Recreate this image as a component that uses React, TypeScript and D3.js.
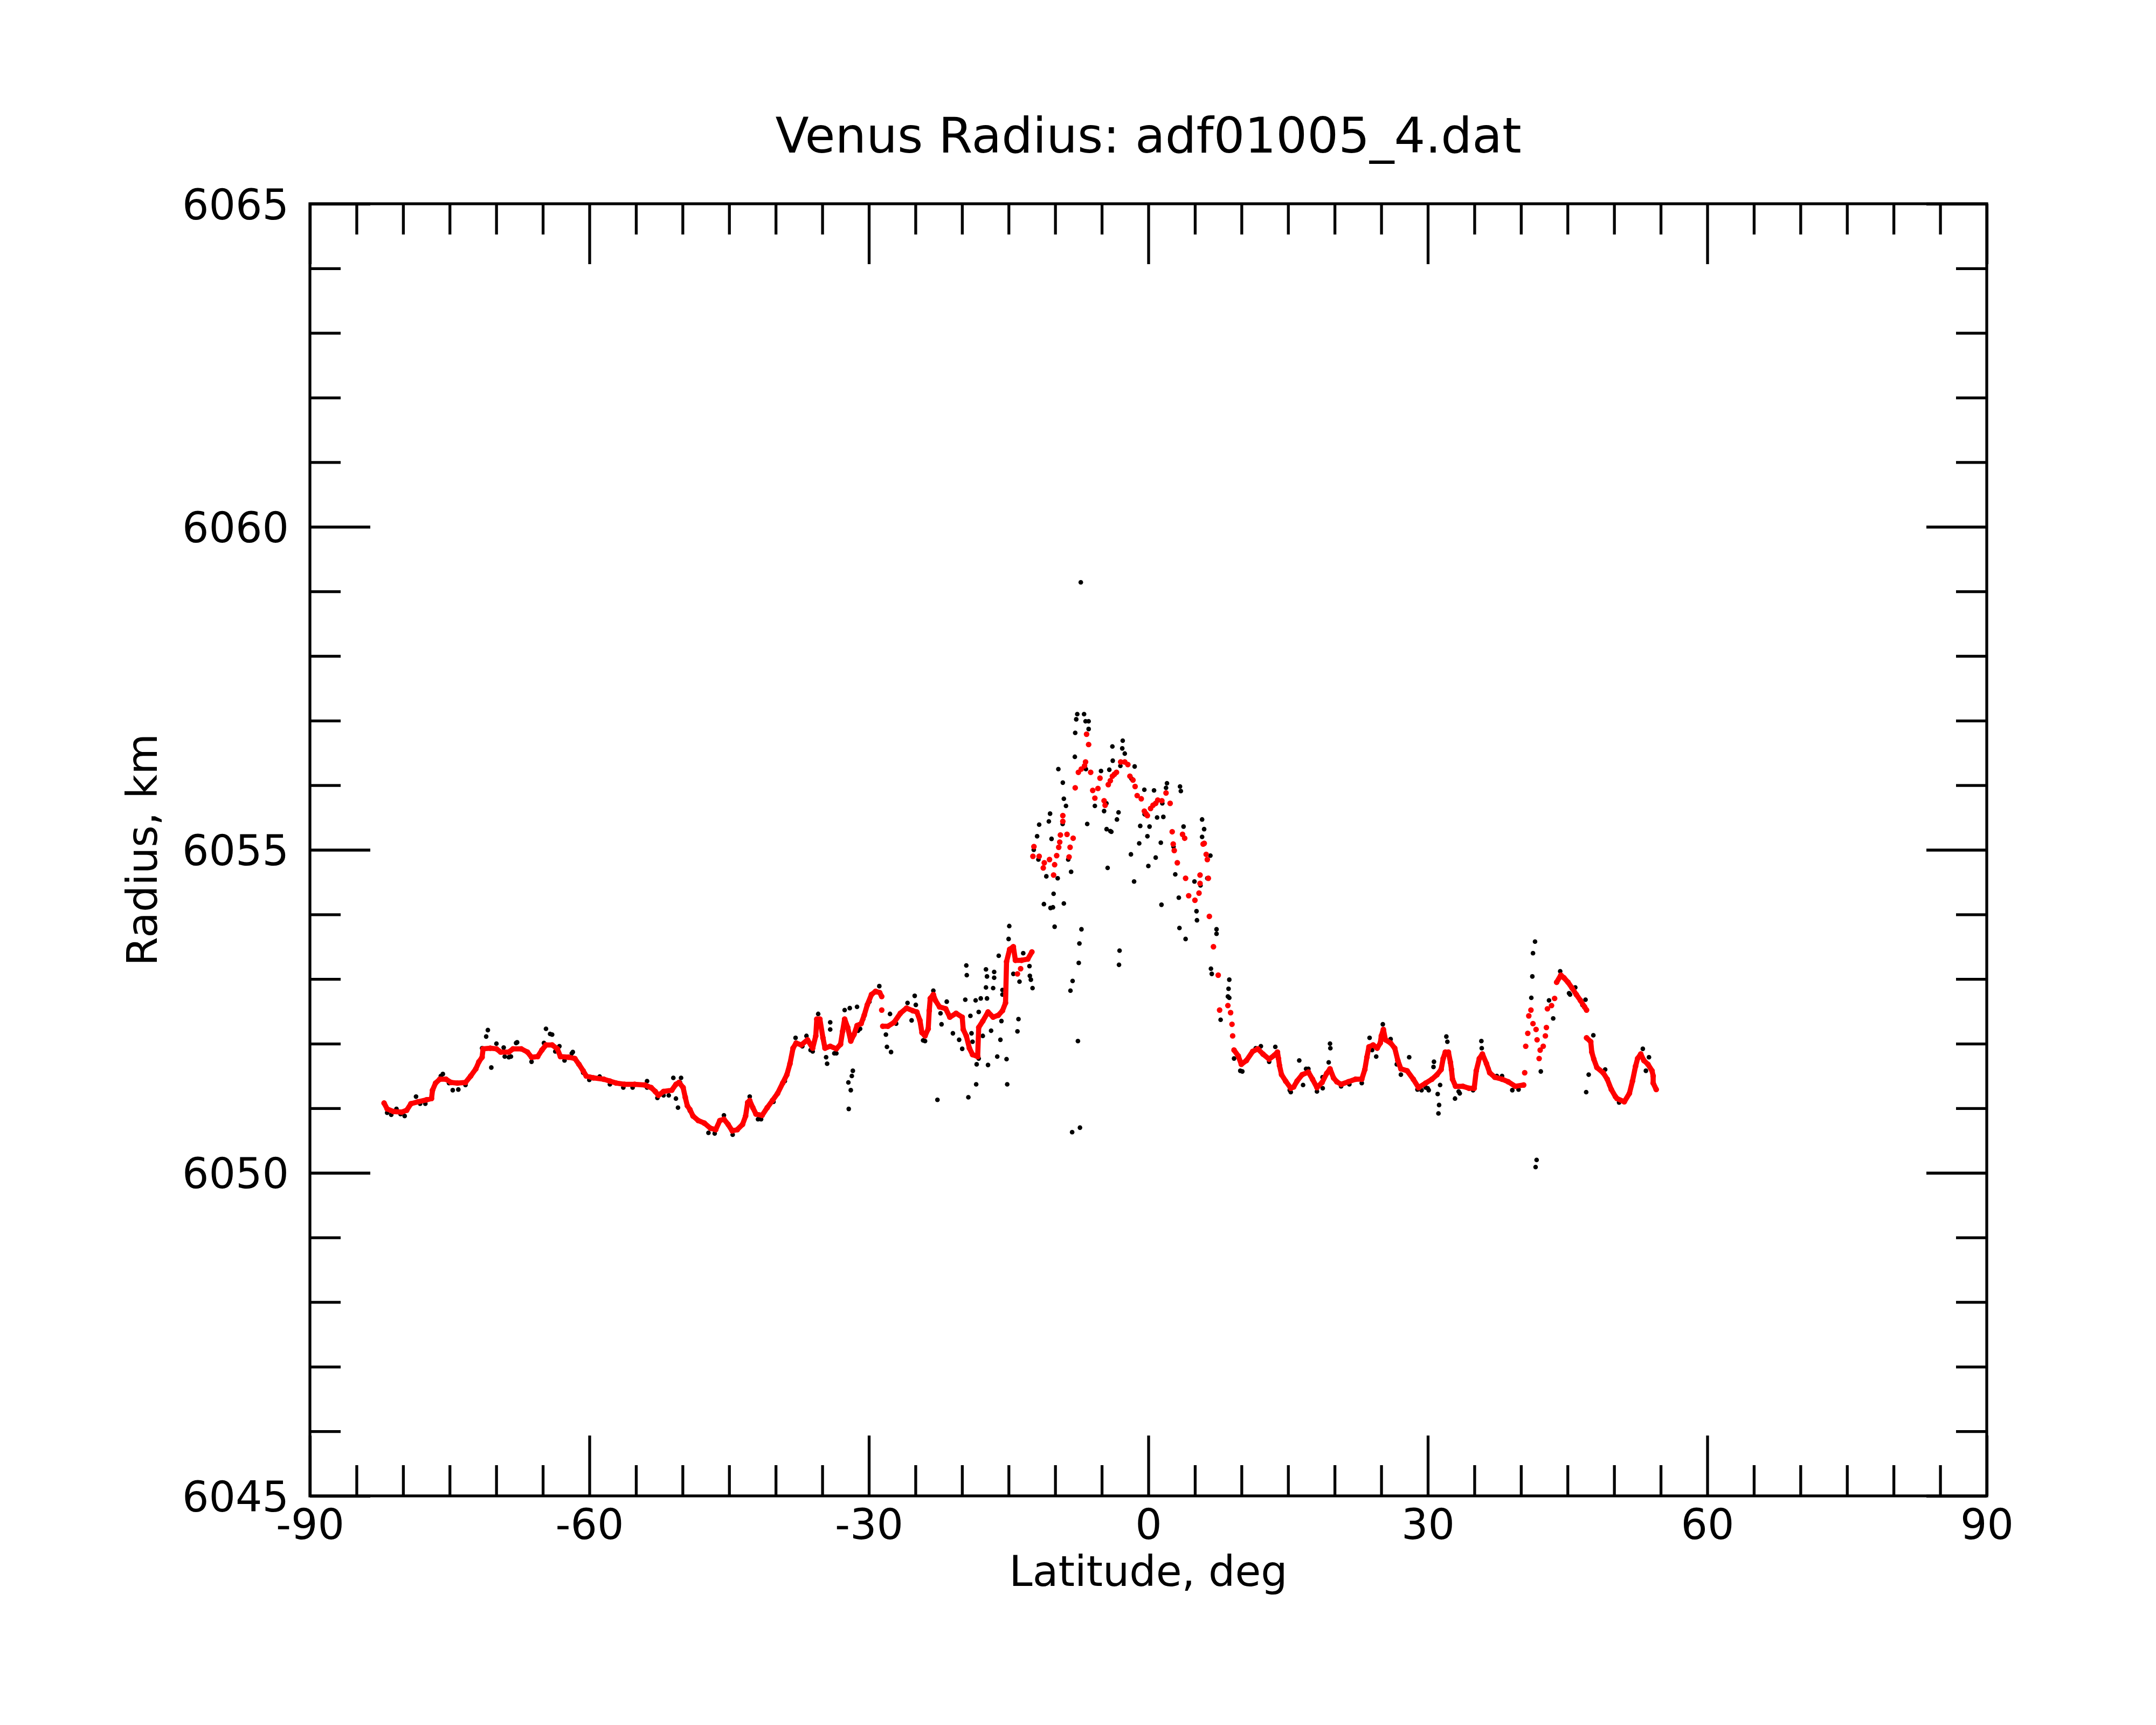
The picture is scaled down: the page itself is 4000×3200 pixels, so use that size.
import { useEffect, useRef } from 'react';
import * as d3 from 'd3';

type Pt = [number, number];

// latitude (deg), radius (km)
const redSouth: Pt[] = [
  [-82.04, 6051.08], [-81.71, 6050.99], [-81.05, 6050.95], [-80.16, 6050.94], [-79.61, 6050.97],
  [-79.16, 6051.07], [-78.39, 6051.1], [-77.5, 6051.13], [-76.95, 6051.15], [-76.84, 6051.28],
  [-76.51, 6051.39], [-76.06, 6051.45], [-75.4, 6051.45], [-74.85, 6051.4], [-74.18, 6051.39],
  [-73.3, 6051.4], [-72.74, 6051.5], [-72.19, 6051.61], [-71.86, 6051.72], [-71.52, 6051.79],
  [-71.41, 6051.92], [-70.64, 6051.93], [-69.98, 6051.92], [-69.53, 6051.87], [-68.65, 6051.87],
  [-68.2, 6051.92], [-67.32, 6051.92], [-66.65, 6051.87], [-66.21, 6051.79], [-65.55, 6051.8],
  [-65.1, 6051.9], [-64.66, 6051.98], [-64.0, 6051.98], [-63.44, 6051.92], [-63.11, 6051.8],
  [-62.23, 6051.79], [-61.56, 6051.77], [-61.12, 6051.68], [-60.67, 6051.58], [-60.34, 6051.5],
  [-59.57, 6051.47], [-58.46, 6051.45], [-57.8, 6051.42], [-57.13, 6051.39], [-56.24, 6051.37],
  [-55.14, 6051.37], [-54.03, 6051.36], [-53.37, 6051.32], [-52.93, 6051.26], [-52.59, 6051.2],
  [-52.04, 6051.26], [-51.15, 6051.28], [-50.71, 6051.37], [-50.38, 6051.4], [-49.94, 6051.32],
  [-49.71, 6051.17], [-49.49, 6051.04], [-49.21, 6050.98], [-48.88, 6050.88], [-48.32, 6050.81],
  [-47.66, 6050.77], [-47.0, 6050.69], [-46.44, 6050.67], [-46.0, 6050.81], [-45.56, 6050.83],
  [-45.11, 6050.75], [-44.67, 6050.65], [-44.12, 6050.67], [-43.56, 6050.75], [-43.23, 6050.88],
  [-43.01, 6051.09], [-42.79, 6051.12], [-42.46, 6051.01], [-42.12, 6050.91], [-41.46, 6050.89],
  [-40.91, 6051.01], [-40.35, 6051.12], [-39.8, 6051.23], [-39.25, 6051.39], [-38.8, 6051.52],
  [-38.47, 6051.69], [-38.14, 6051.93], [-37.81, 6052.01], [-37.25, 6051.98], [-36.59, 6052.06],
  [-36.03, 6051.93], [-35.7, 6052.12], [-35.59, 6052.38], [-35.26, 6052.38], [-34.93, 6052.09],
  [-34.71, 6051.93], [-34.15, 6051.96], [-33.49, 6051.92], [-33.04, 6051.99], [-32.82, 6052.19],
  [-32.6, 6052.38], [-32.27, 6052.25], [-31.94, 6052.04], [-31.6, 6052.14], [-31.27, 6052.28],
  [-30.83, 6052.31], [-30.5, 6052.44], [-30.17, 6052.6], [-29.72, 6052.76], [-29.28, 6052.81],
  [-28.84, 6052.79], [-28.62, 6052.73],
];

const redMid: Pt[] = [
  [-28.51, 6052.27], [-27.95, 6052.27], [-27.29, 6052.33], [-26.62, 6052.47], [-25.96, 6052.55],
  [-25.29, 6052.51], [-24.85, 6052.49], [-24.52, 6052.36], [-24.3, 6052.17], [-23.97, 6052.12],
  [-23.63, 6052.23], [-23.52, 6052.51], [-23.41, 6052.7], [-23.08, 6052.76], [-22.86, 6052.67],
  [-22.42, 6052.57], [-21.75, 6052.54], [-21.31, 6052.41], [-20.64, 6052.47], [-19.98, 6052.41],
  [-19.87, 6052.22], [-19.54, 6052.12], [-19.21, 6051.93], [-18.87, 6051.83], [-18.32, 6051.8],
  [-18.21, 6052.25], [-17.77, 6052.35], [-17.21, 6052.49], [-16.66, 6052.41], [-16.1, 6052.44],
  [-15.66, 6052.51], [-15.33, 6052.63], [-15.22, 6053.27], [-14.89, 6053.46], [-14.49, 6053.5],
  [-14.27, 6053.29], [-13.6, 6053.29], [-12.94, 6053.31], [-12.5, 6053.42],
];

const redNorthA: Pt[] = [
  [9.2, 6051.9], [9.65, 6051.81], [9.98, 6051.68], [10.53, 6051.74], [11.2, 6051.88],
  [11.75, 6051.92], [12.3, 6051.84], [12.97, 6051.76], [13.52, 6051.82], [13.86, 6051.87],
  [13.97, 6051.77], [14.08, 6051.66], [14.3, 6051.52], [14.74, 6051.42], [15.29, 6051.31],
  [15.6, 6051.33], [15.96, 6051.42], [16.51, 6051.52], [17.18, 6051.56], [17.62, 6051.45],
  [18.1, 6051.32], [18.65, 6051.4], [19.15, 6051.54], [19.5, 6051.61], [19.88, 6051.47],
  [20.23, 6051.41], [20.69, 6051.37], [21.47, 6051.41], [22.24, 6051.45], [22.91, 6051.45],
  [23.24, 6051.6], [23.46, 6051.79], [23.68, 6051.95], [24.13, 6051.98], [24.57, 6051.93],
  [24.9, 6052.01], [25.01, 6052.12], [25.23, 6052.22], [25.45, 6052.06], [26.01, 6052.01],
  [26.45, 6051.93], [26.78, 6051.74], [27.11, 6051.61], [27.78, 6051.58], [28.44, 6051.45],
  [29.0, 6051.32], [29.77, 6051.39], [30.44, 6051.45], [30.99, 6051.52], [31.43, 6051.6],
  [31.65, 6051.77], [31.88, 6051.87], [32.21, 6051.87], [32.43, 6051.71], [32.54, 6051.6],
  [32.65, 6051.45], [32.98, 6051.34], [33.76, 6051.34], [34.42, 6051.31], [34.98, 6051.31],
  [35.2, 6051.58], [35.53, 6051.77], [35.86, 6051.84], [36.3, 6051.69], [36.64, 6051.55],
  [37.19, 6051.48], [37.97, 6051.45], [38.63, 6051.41], [39.4, 6051.34], [40.29, 6051.36],
];

const redNorthB: Pt[] = [
  [43.83, 6052.95], [44.28, 6053.06], [44.61, 6053.02], [45.05, 6052.95], [45.49, 6052.86],
  [45.94, 6052.76], [46.38, 6052.67], [46.82, 6052.57], [47.04, 6052.52],
];

const redNorthC: Pt[] = [
  [47.04, 6052.09], [47.49, 6052.03], [47.6, 6051.87], [47.82, 6051.76], [48.15, 6051.63],
  [48.82, 6051.55], [49.26, 6051.45], [49.7, 6051.29], [50.14, 6051.18], [50.31, 6051.15],
  [51.09, 6051.1], [51.64, 6051.23], [51.97, 6051.42], [52.3, 6051.65], [52.52, 6051.77],
  [52.86, 6051.84], [53.19, 6051.74], [53.63, 6051.68], [54.07, 6051.58], [54.19, 6051.5],
  [54.19, 6051.39], [54.52, 6051.29],
];

// red points that stand apart (no connecting trace)
const redScatter: Pt[] = [
  [-28.62, 6052.52], [-14.05, 6053.08], [-13.71, 6053.16],
  [-12.28, 6055.05], [-12.39, 6054.9], [-11.72, 6054.9], [-11.17, 6054.8], [-11.28, 6054.72],
  [-10.61, 6054.85], [-10.06, 6054.77], [-10.17, 6054.61], [-9.84, 6054.91], [-9.62, 6055.04],
  [-9.51, 6055.12], [-9.44, 6055.23], [-9.18, 6055.44], [-9.18, 6055.53], [-8.73, 6055.24],
  [-8.4, 6055.04], [-8.51, 6054.89], [-8.07, 6055.18], [-7.85, 6055.96], [-7.51, 6056.2],
  [-7.2, 6056.25], [-6.85, 6056.3], [-6.74, 6056.36], [-6.19, 6056.2], [-6.63, 6056.79],
  [-6.41, 6056.63], [-5.97, 6055.92], [-5.74, 6055.8], [-5.41, 6055.95], [-5.19, 6056.11],
  [-4.64, 6055.69], [-4.75, 6055.76], [-4.3, 6056.01], [-4.08, 6056.07], [-3.86, 6056.14],
  [-3.64, 6056.17], [-3.42, 6056.2], [-2.97, 6056.36], [-2.53, 6056.36], [-2.2, 6056.32],
  [-1.98, 6056.14], [-1.65, 6056.08], [-1.42, 6055.98], [-1.2, 6055.84], [-0.76, 6055.79],
  [-0.43, 6055.6], [-0.25, 6055.56], [-0.1, 6055.53], [0.24, 6055.64], [0.5, 6055.69],
  [0.79, 6055.72], [1.01, 6055.77], [1.45, 6055.76], [1.9, 6055.88], [2.34, 6055.72],
  [2.56, 6055.28], [2.67, 6055.09], [2.78, 6054.99], [3.11, 6054.8], [3.67, 6055.24],
  [3.9, 6055.18], [4.0, 6054.56], [5.55, 6054.61], [5.88, 6055.09], [6.0, 6055.1],
  [6.21, 6054.93], [6.33, 6054.85], [6.44, 6054.56], [5.55, 6054.48], [4.33, 6054.29],
  [5.0, 6054.22], [5.44, 6054.33], [6.55, 6053.97], [6.99, 6053.5], [7.5, 6053.06],
  [7.65, 6052.52], [8.54, 6052.59], [8.83, 6052.48], [8.98, 6052.3], [9.05, 6052.12],
  [40.4, 6051.55], [40.51, 6051.96], [40.73, 6052.16], [40.84, 6052.43], [41.07, 6052.52],
  [41.29, 6052.31], [41.62, 6052.22], [41.73, 6052.06], [41.95, 6051.77], [42.06, 6051.9],
  [42.39, 6051.96], [42.62, 6052.12], [42.73, 6052.25], [42.84, 6052.54], [43.28, 6052.59],
  [43.61, 6052.7],
];

const blackSouth: Pt[] = [
  [-81.71, 6050.93], [-81.27, 6050.9], [-80.71, 6050.99], [-80.27, 6050.91], [-79.83, 6050.88],
  [-78.61, 6051.18], [-78.17, 6051.07], [-77.61, 6051.07], [-75.95, 6051.5], [-75.73, 6051.53],
  [-75.07, 6051.39], [-74.67, 6051.28], [-74.07, 6051.29], [-73.3, 6051.36], [-71.52, 6051.93],
  [-71.08, 6052.11], [-70.9, 6052.21], [-70.53, 6051.63], [-69.98, 6052.0], [-69.2, 6051.94],
  [-69.09, 6051.8], [-68.65, 6051.79], [-68.42, 6051.8], [-67.87, 6052.01], [-67.76, 6052.02],
  [-66.21, 6051.72], [-64.88, 6052.01], [-64.66, 6052.23], [-64.22, 6052.15], [-64.0, 6052.14],
  [-63.66, 6051.88], [-63.22, 6051.96], [-62.67, 6051.74], [-61.89, 6051.85], [-61.78, 6051.87],
  [-60.67, 6051.55], [-60.01, 6051.44], [-58.9, 6051.49], [-57.8, 6051.37], [-56.36, 6051.32],
  [-55.36, 6051.32], [-53.81, 6051.42], [-53.81, 6051.32], [-52.7, 6051.16], [-52.04, 6051.2],
  [-51.48, 6051.2], [-50.99, 6051.47], [-50.71, 6051.15], [-50.49, 6051.01], [-50.27, 6051.4],
  [-50.16, 6051.47], [-49.21, 6050.96], [-47.22, 6050.62], [-46.55, 6050.61], [-45.56, 6050.89],
  [-44.62, 6050.59], [-42.79, 6051.18], [-41.9, 6050.83], [-41.57, 6050.83], [-40.24, 6051.1],
  [-39.02, 6051.42], [-37.87, 6052.09], [-37.14, 6051.96], [-36.7, 6052.12], [-36.26, 6051.9],
  [-36.03, 6051.88], [-35.44, 6052.46], [-34.59, 6051.79], [-34.48, 6051.69], [-34.15, 6052.33],
  [-34.15, 6052.22], [-33.71, 6051.85], [-33.49, 6051.85], [-32.6, 6052.52], [-32.2, 6051.4],
  [-32.16, 6050.99], [-32.05, 6052.55], [-31.94, 6051.28], [-31.83, 6051.5], [-31.72, 6051.58],
  [-31.27, 6052.57], [-31.16, 6052.2], [-30.94, 6052.23], [-30.61, 6052.38], [-29.94, 6052.65],
  [-28.88, 6052.89], [-28.17, 6052.14], [-28.06, 6051.95], [-27.73, 6052.46], [-27.62, 6051.87],
  [-27.07, 6052.31], [-25.85, 6052.63], [-25.41, 6052.36], [-25.08, 6052.74], [-24.96, 6052.6],
  [-24.18, 6052.05], [-23.97, 6052.04], [-23.08, 6052.82], [-22.64, 6051.13], [-22.31, 6052.47],
  [-22.2, 6052.3], [-21.64, 6052.65], [-21.64, 6052.51], [-20.98, 6052.16], [-20.31, 6052.06],
  [-19.98, 6051.92], [-19.54, 6053.21], [-19.49, 6053.06], [-19.65, 6052.68], [-19.32, 6051.17],
  [-19.1, 6052.43], [-18.98, 6052.16], [-18.87, 6052.03], [-18.54, 6052.67], [-18.48, 6051.37],
  [-18.43, 6051.68], [-18.21, 6052.49], [-18.21, 6051.77], [-17.99, 6052.7], [-17.77, 6052.12],
  [-17.43, 6053.15], [-17.43, 6052.87], [-17.32, 6053.04], [-17.32, 6052.7], [-17.21, 6051.67],
  [-16.88, 6052.2], [-16.66, 6052.86], [-16.55, 6053.11], [-16.55, 6053.02], [-16.22, 6051.8],
  [-16.06, 6053.36], [-15.88, 6052.06], [-15.77, 6052.35], [-15.66, 6052.76], [-15.66, 6052.83],
  [-15.22, 6051.76], [-15.15, 6051.37], [-15.0, 6053.62], [-14.93, 6053.82], [-14.49, 6053.08],
];

const blackPeak: Pt[] = [
  [-14.05, 6052.19], [-13.94, 6052.38], [-13.83, 6052.96], [-13.43, 6053.4], [-12.76, 6053.2],
  [-12.72, 6053.05], [-12.61, 6052.99], [-12.43, 6052.86], [-11.21, 6054.16], [-10.5, 6054.1],
  [-10.24, 6054.11], [-10.17, 6054.32], [-10.06, 6053.81], [-9.07, 6054.17], [-8.36, 6052.82],
  [-8.13, 6052.97], [-8.18, 6050.63], [-7.56, 6052.04], [-7.47, 6053.25], [-7.4, 6053.55],
  [-7.34, 6050.7], [-7.18, 6053.77], [-3.15, 6053.22], [-3.09, 6053.44], [1.41, 6054.15],
  [3.27, 6054.26], [3.34, 6053.79], [4.0, 6053.62], [5.17, 6054.05], [5.22, 6053.91],
  [6.72, 6053.16], [6.81, 6053.08], [7.32, 6053.77], [7.32, 6053.7], [7.76, 6052.37],
  [8.54, 6052.73], [8.61, 6052.85], [8.69, 6052.99], [8.69, 6052.71],
  [-7.25, 6059.14], [-7.63, 6057.1], [-6.9, 6057.1], [-7.74, 6057.02], [-6.74, 6056.99],
  [-6.41, 6056.99], [-6.41, 6056.87], [-7.85, 6056.81], [-7.89, 6056.44], [-9.66, 6056.25],
  [-9.18, 6056.04], [-9.07, 6055.79], [-8.84, 6055.68], [-10.55, 6055.56], [-10.68, 6055.44],
  [-11.72, 6055.39], [-11.94, 6055.21], [-10.39, 6055.17], [-8.29, 6054.66], [-10.95, 6054.59],
  [-9.73, 6054.56], [-6.56, 6055.4], [-4.75, 6055.6], [-4.08, 6055.29], [-4.37, 6054.72],
  [-3.86, 6056.6], [-2.75, 6056.69], [-2.8, 6056.57], [-2.53, 6056.49], [-3.82, 6056.38],
  [-1.47, 6056.29], [-5.08, 6056.22], [-4.19, 6056.24], [-5.74, 6055.68], [-3.2, 6055.58],
  [-3.37, 6055.47], [-3.97, 6055.28], [-4.48, 6055.32], [-1.87, 6054.93], [-0.98, 6055.1],
  [-0.1, 6055.21], [-0.87, 6055.37], [0.13, 6055.36], [0.79, 6054.88], [0.0, 6054.75],
  [-1.53, 6054.51], [-0.43, 6055.93], [0.61, 6055.92], [2.0, 6056.03], [1.9, 6055.96],
  [3.4, 6055.98], [3.49, 6055.91], [1.61, 6055.51], [0.94, 6055.5], [1.34, 6055.11],
  [3.78, 6055.36], [5.77, 6055.47], [5.99, 6055.32], [5.77, 6055.2], [6.66, 6054.91],
  [2.89, 6054.62], [4.95, 6054.51], [6.33, 6054.56], [-12.3, 6055.0], [-11.8, 6054.85],
  [-9.2, 6055.4], [-8.6, 6054.85], [-6.7, 6056.25], [-4.5, 6055.72], [-3.0, 6056.3],
  [-1.8, 6056.1], [-0.4, 6055.55], [1.5, 6055.72], [2.7, 6055.05], [5.6, 6054.45],
];

const blackNorth: Pt[] = [
  [9.2, 6051.77], [9.87, 6051.58], [10.09, 6051.57], [11.53, 6051.93], [12.08, 6051.96],
  [12.97, 6051.72], [13.63, 6051.95], [15.18, 6051.28], [15.29, 6051.25], [16.2, 6051.74],
  [16.61, 6051.36], [16.93, 6051.61], [17.18, 6051.61], [18.1, 6051.26], [18.7, 6051.48],
  [18.72, 6051.31], [19.36, 6051.71], [19.5, 6052.0], [19.54, 6051.93], [20.69, 6051.34],
  [21.58, 6051.37], [22.91, 6051.39], [23.75, 6052.09], [24.02, 6051.9], [24.46, 6051.8],
  [25.17, 6052.3], [26.01, 6052.07], [26.67, 6051.68], [27.11, 6051.52], [28.0, 6051.79],
  [28.89, 6051.29], [29.33, 6051.28], [29.77, 6051.32], [29.99, 6051.31], [30.1, 6051.28],
  [30.61, 6051.64], [30.66, 6051.72], [31.06, 6051.22], [31.14, 6050.92], [31.21, 6051.05],
  [31.32, 6051.36], [31.99, 6052.11], [32.1, 6052.03], [32.92, 6051.15], [33.31, 6051.26],
  [33.43, 6051.23], [34.86, 6051.28], [35.75, 6052.04], [35.79, 6051.93], [36.53, 6051.61],
  [36.86, 6051.52], [37.41, 6051.5], [37.97, 6051.5], [39.07, 6051.28], [39.74, 6051.29],
  [41.11, 6052.71], [41.22, 6053.04], [41.29, 6053.4], [41.51, 6053.58], [41.57, 6050.09],
  [41.68, 6050.2], [42.13, 6051.57], [43.01, 6052.67], [43.46, 6052.39], [44.21, 6053.12],
  [45.16, 6052.78], [45.27, 6052.76], [45.83, 6052.87], [46.6, 6052.6], [46.93, 6052.68],
  [47.0, 6051.25], [47.27, 6051.52], [47.77, 6052.13], [49.04, 6051.6], [49.48, 6051.36],
  [50.53, 6051.09], [52.19, 6051.58], [53.08, 6051.92], [53.41, 6051.58], [53.74, 6051.79],
];

const xMajorTicks = [-90, -60, -30, 0, 30, 60, 90];
const xMinorTicks = d3.range(-85, 90, 5).filter((v) => v % 30 !== 0);
const yMajorTicks = [6045, 6050, 6055, 6060, 6065];
const yMinorTicks = d3.range(6046, 6065, 1).filter((v) => v % 5 !== 0);

const WIDTH = 4000;
const HEIGHT = 3200;
const margin = { top: 378, right: 314, bottom: 425, left: 575 };
const FONT = 'DejaVu Sans, sans-serif';

export default function App() {
  const svgRef = useRef<SVGSVGElement>(null);

  useEffect(() => {
    if (!svgRef.current) return;
    const svg = d3.select(svgRef.current);
    svg.selectAll('*').remove();

    const innerW = WIDTH - margin.left - margin.right;
    const innerH = HEIGHT - margin.top - margin.bottom;

    const x = d3.scaleLinear().domain([-90, 90]).range([0, innerW]);
    const y = d3.scaleLinear().domain([6045, 6065]).range([innerH, 0]);

    svg.append('rect').attr('width', WIDTH).attr('height', HEIGHT).attr('fill', '#fff');

    const g = svg.append('g').attr('transform', `translate(${margin.left},${margin.top})`);

    // axes: ticks point inward on all four sides
    const styleAxis = (sel: d3.Selection<SVGGElement, unknown, null, undefined>) => {
      sel.select('.domain').remove();
      sel.selectAll('line').attr('stroke', '#000').attr('stroke-width', 5.3);
      sel.attr('font-family', FONT).attr('font-size', 77.8);
      sel.selectAll('text').attr('fill', '#000');
    };
    const noLabel = () => '';

    const axes: [d3.Axis<d3.NumberValue>, string][] = [
      [d3.axisBottom(x).tickValues(xMinorTicks).tickSize(-57).tickFormat(noLabel), `translate(0,${innerH})`],
      [d3.axisTop(x).tickValues(xMinorTicks).tickSize(-57).tickFormat(noLabel), 'translate(0,0)'],
      [d3.axisTop(x).tickValues(xMajorTicks).tickSize(-112).tickFormat(noLabel), 'translate(0,0)'],
      [d3.axisLeft(y).tickValues(yMinorTicks).tickSize(-57).tickFormat(noLabel), 'translate(0,0)'],
      [d3.axisRight(y).tickValues(yMinorTicks).tickSize(-57).tickFormat(noLabel), `translate(${innerW},0)`],
      [d3.axisRight(y).tickValues(yMajorTicks).tickSize(-112).tickFormat(noLabel), `translate(${innerW},0)`],
    ];
    axes.forEach(([axis, tr]) => {
      g.append('g').attr('transform', tr).call(axis.tickSizeOuter(0)).call(styleAxis);
    });

    g.append('g')
      .attr('transform', `translate(0,${innerH})`)
      .call(
        d3.axisBottom(x).tickValues(xMajorTicks).tickSize(-112).tickSizeOuter(0).tickPadding(25)
          .tickFormat((d) => String(d))
      )
      .call(styleAxis);

    g.append('g')
      .call(
        d3.axisLeft(y).tickValues(yMajorTicks).tickSize(-112).tickSizeOuter(0).tickPadding(39)
          .tickFormat((d) => String(d))
      )
      .call(styleAxis)
      .selectAll('text')
      .attr('dy', '0.36em');

    g.append('rect')
      .attr('width', innerW)
      .attr('height', innerH)
      .attr('fill', 'none')
      .attr('stroke', '#000')
      .attr('stroke-width', 5.3);

    // raw points
    const black = [...blackSouth, ...blackPeak, ...blackNorth];
    g.append('g')
      .selectAll('circle')
      .data(black)
      .enter()
      .append('circle')
      .attr('cx', (d) => x(d[0]))
      .attr('cy', (d) => y(d[1]))
      .attr('r', 4.3)
      .attr('fill', '#000');

    // smoothed trace
    const line = d3.line<Pt>().x((d) => x(d[0])).y((d) => y(d[1]));
    const redSegments = [redSouth, redMid, redNorthA, redNorthB, redNorthC];
    g.append('g')
      .selectAll('path')
      .data(redSegments)
      .enter()
      .append('path')
      .attr('d', (d) => line(d) || '')
      .attr('fill', 'none')
      .attr('stroke', '#ff0000')
      .attr('stroke-width', 9.5)
      .attr('stroke-linecap', 'round')
      .attr('stroke-linejoin', 'round');

    const red = [...redSegments.flat(), ...redScatter];
    g.append('g')
      .selectAll('circle')
      .data(red)
      .enter()
      .append('circle')
      .attr('cx', (d) => x(d[0]))
      .attr('cy', (d) => y(d[1]))
      .attr('r', 5.2)
      .attr('fill', '#ff0000');

    // titles
    svg.append('text')
      .attr('x', margin.left + innerW / 2)
      .attr('y', 283)
      .attr('text-anchor', 'middle')
      .attr('font-family', FONT)
      .attr('font-size', 91)
      .attr('fill', '#000')
      .text('Venus Radius: adf01005_4.dat');

    svg.append('text')
      .attr('x', margin.left + innerW / 2)
      .attr('y', 2942)
      .attr('text-anchor', 'middle')
      .attr('font-family', FONT)
      .attr('font-size', 77.8)
      .attr('fill', '#000')
      .text('Latitude, deg');

    svg.append('text')
      .attr('transform', `translate(291,${margin.top + innerH / 2}) rotate(-90)`)
      .attr('text-anchor', 'middle')
      .attr('font-family', FONT)
      .attr('font-size', 77.8)
      .attr('fill', '#000')
      .text('Radius, km');
  }, []);

  return (
    <div style={{ position: 'absolute', left: 0, top: 0 }}>
      <svg ref={svgRef} width={WIDTH} height={HEIGHT} style={{ display: 'block' }} />
    </div>
  );
}
